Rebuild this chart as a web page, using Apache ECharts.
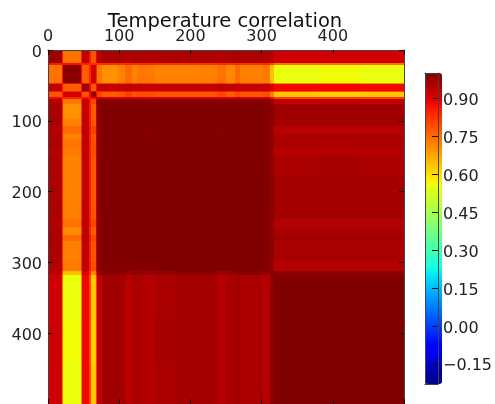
<!DOCTYPE html>
<html><head><meta charset="utf-8">
<style>html,body{margin:0;padding:0;background:#fff;overflow:hidden}#c{width:495px;height:404px}</style>
<script src="https://cdn.jsdelivr.net/npm/echarts@6/dist/echarts.min.js"></script>
</head><body><div id="c"></div>
<script>
const titleText = 'Temperature correlation';
const axisTicks = [0, 100, 200, 300, 400];
const barTicks = [0.90, 0.75, 0.60, 0.45, 0.30, 0.15, 0.00, -0.15];
const valueMin = -0.23, valueMax = 1.0;
const binEdges = [0,19,21,46,48,58,60,67,69,76,98,108,118,125,138,150,180,210,238,250,262,270,300,312,318,380,440,500];
// Upper triangle of the correlation matrix, one row per bin
const upper = [
[.965,.86,.74,.84,.93,.86,.78,.88,.945,.955,.95,.945,.95,.95,.945,.95,.95,.95,.945,.95,.955,.95,.945,.935,.915,.915,.915],
[.86,.87,.83,.85,.84,.84,.84,.83,.84,.83,.84,.84,.84,.84,.83,.83,.83,.84,.83,.84,.83,.84,.80,.74,.74,.74],
[.99,.88,.77,.84,.91,.84,.73,.70,.72,.75,.72,.735,.73,.72,.72,.725,.74,.71,.75,.725,.73,.64,.55,.56,.55],
[.90,.86,.87,.86,.85,.82,.81,.81,.84,.81,.83,.82,.81,.81,.81,.83,.80,.84,.81,.82,.76,.71,.72,.71],
[.975,.88,.78,.87,.93,.925,.93,.935,.93,.93,.93,.93,.93,.93,.935,.93,.935,.93,.93,.90,.88,.88,.88],
[.90,.88,.84,.86,.855,.855,.865,.855,.86,.855,.855,.855,.855,.86,.85,.86,.855,.86,.82,.79,.79,.79],
[.98,.88,.80,.77,.78,.81,.78,.79,.79,.78,.78,.78,.80,.77,.80,.78,.79,.72,.63,.62,.63],
[.93,.93,.91,.91,.915,.91,.91,.91,.91,.91,.91,.91,.91,.915,.91,.91,.87,.81,.81,.81],
[.995,.995,.995,.99,.995,.995,.99,.995,.995,.995,.99,.995,.995,.995,.99,.975,.93,.93,.93],
[1,1,.997,1,1,.997,1,1,1,.997,1,1,1,.997,.99,.965,.965,.965],
[1,.997,1,1,.997,1,1,1,.997,1,1,1,.997,.985,.96,.96,.96],
[1,.997,.997,.995,.997,.997,.997,.995,.997,1,.997,.995,.975,.94,.94,.94],
[1,1,.997,1,1,1,.997,1,1,1,.997,.98,.955,.955,.955],
[1,.997,1,1,1,.997,1,1,1,.997,.98,.95,.95,.95],
[1,1,1,1,.997,1,1,1,.997,.975,.945,.945,.945],
[1,1,1,1,1,1,1,1,.98,.955,.958,.955],
[1,1,1,1,1,1,1,.985,.96,.96,.96],
[1,1,1,1,1,1,.985,.96,.96,.96],
[1,1,1,1,.997,.975,.945,.945,.945],
[1,1,1,1,.98,.955,.955,.955],
[1,1,1,.985,.965,.965,.965],
[1,1,.985,.955,.955,.955],
[1,.98,.945,.945,.945],
[.995,.985,.985,.985],
[1,1,1],
[1,1],
[1]
];
// The narrow column at the very left edge (x from 0 to 2)
const leftEdgeX = [0, 2];
const leftEdge = [.80,.75,.70,.75,.78,.75,.72,.75,.70,.68,.68,.70,.68,.69,.69,.68,.68,.68,.70,.68,.70,.68,.68,.60,.52,.52,.52];

function lerp(stops, t) {
  for (let i = 1; i < stops.length; i++) {
    if (t <= stops[i][0]) {
      const a = stops[i-1], b = stops[i];
      return a[1] + (b[1]-a[1]) * (t-a[0]) / (b[0]-a[0]);
    }
  }
  return stops[stops.length-1][1];
}
const jetR = [[0,0],[.35,0],[.66,1],[.89,1],[1,.5]];
const jetG = [[0,0],[.125,0],[.375,1],[.64,1],[.91,0],[1,0]];
const jetB = [[0,.5],[.11,1],[.34,1],[.65,0],[1,0]];
const jet = [];
for (let i = 0; i <= 200; i++) {
  const t = i/200, h = s => Math.round(255*lerp(s,t));
  jet.push('rgb('+h(jetR)+','+h(jetG)+','+h(jetB)+')');
}

const cells = [];
const n = binEdges.length - 1;
for (let i = 0; i < n; i++) for (let j = 0; j < n; j++) {
  const v = i <= j ? upper[i][j-i] : upper[j][i-j];
  cells.push([binEdges[j], binEdges[j+1], binEdges[i], binEdges[i+1], v]);
}
for (let i = 0; i < n; i++) cells.push([leftEdgeX[0], leftEdgeX[1], binEdges[i], binEdges[i+1], leftEdge[i]]);

const FONT = '"DejaVu Sans"', INK = '#222', SPINE = '#444';
const shifted = {t:{padding:[5,0,0,0], fontFamily:FONT, fontSize:16, color:INK}};
const tick = {show:true, inside:true, length:5, lineStyle:{color:'#111', width:1}};
const mainX = (pos, labels) => ({
  type:'value', gridIndex:0, position:pos, min:0, max:500, interval:100, z:5,
  axisLine:{show:true, onZero:false, lineStyle:{color:SPINE, width:1}}, axisTick:tick, splitLine:{show:false},
  axisLabel:{show:labels, margin:5, fontFamily:FONT, fontSize:16, color:INK, customValues:axisTicks, formatter:v=>String(v)}
});
const mainY = (pos, labels) => ({
  type:'value', gridIndex:0, position:pos, min:0, max:500, interval:100, inverse:true, z:5,
  axisLine:{show:true, onZero:false, lineStyle:{color:SPINE, width:1}}, axisTick:tick, splitLine:{show:false},
  axisLabel:{show:labels, margin:6, rich:shifted, customValues:axisTicks, formatter:v=>'{t|'+v+'}'}
});
const frameX = pos => ({type:'value', gridIndex:1, position:pos, min:0, max:1, z:10,
  axisLine:{show:true, onZero:false, lineStyle:{color:SPINE, width:1}}, axisTick:{show:false}, axisLabel:{show:false}, splitLine:{show:false}});

const chart = echarts.init(document.getElementById('c'), null, {renderer:'canvas'});
chart.setOption({
  animation:false,
  backgroundColor:'#fff',
  title:{text:titleText, left:220, top:7, textAlign:'center',
    textStyle:{fontFamily:FONT, fontSize:19.5, fontWeight:'normal', color:'#111'}},
  grid:[
    {left:48, top:50, width:356, height:357},
    {left:425, top:73, width:17, height:311}
  ],
  xAxis:[mainX('top',true), mainX('bottom',false), frameX('top'), frameX('bottom')],
  yAxis:[mainY('left',true), mainY('right',false),
    {type:'value', gridIndex:1, position:'left', min:valueMin, max:valueMax, z:10,
     axisLine:{show:true, onZero:false, lineStyle:{color:SPINE, width:1}}, axisTick:{show:false}, axisLabel:{show:false}, splitLine:{show:false}},
    {type:'value', gridIndex:1, position:'right', min:valueMin, max:valueMax, z:10,
     axisLine:{show:true, onZero:false, lineStyle:{color:SPINE, width:1}},
     axisTick:{show:true, inside:true, length:6, lineStyle:{color:'#111', width:1}, customValues:barTicks},
     splitLine:{show:false},
     axisLabel:{show:true, margin:5, rich:shifted, customValues:barTicks,
       formatter:v=>'{t|'+(v<0?'\u2212':'')+Math.abs(v).toFixed(2)+'}'}}
  ],
  visualMap:{type:'continuous', min:valueMin, max:valueMax, dimension:4, seriesIndex:0,
    left:425, top:73, itemWidth:17, itemHeight:311, calculable:false, realtime:false, text:null,
    showLabel:false, padding:0, inRange:{color:jet}, textStyle:{fontSize:0}},
  series:[{
    type:'custom', xAxisIndex:0, yAxisIndex:0, z:2, clip:false,
    encode:{x:[0,1], y:[2,3]},
    renderItem(params, api){
      const p0 = api.coord([api.value(0), api.value(2)]);
      const p1 = api.coord([api.value(1), api.value(3)]);
      const x = Math.round(p0[0]), y = Math.round(p0[1]);
      return {type:'rect', shape:{x, y, width:Math.round(p1[0])-x, height:Math.round(p1[1])-y},
        style:{fill:api.visual('color')}};
    },
    data:cells
  }]
});
</script></body></html>
